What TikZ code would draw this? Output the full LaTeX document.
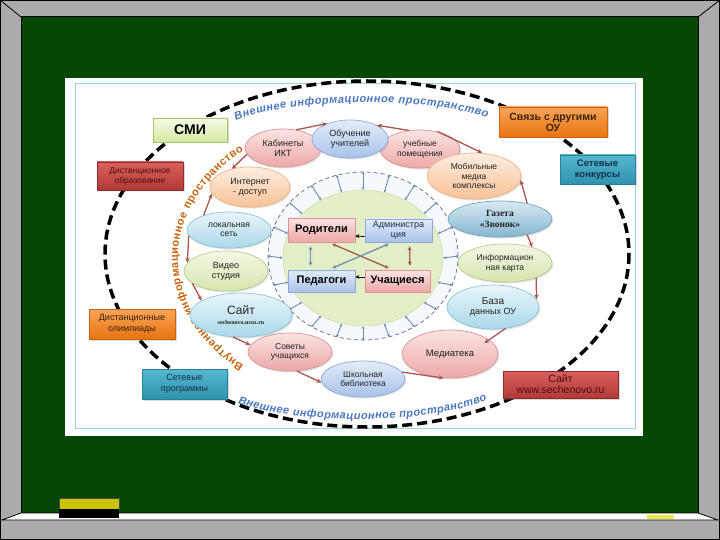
\documentclass[tikz,border=0pt]{standalone}
\usepackage{fontspec}
\setmainfont{Liberation Sans}
\newfontfamily\serifb{Liberation Serif}
\usetikzlibrary{shapes.geometric,arrows.meta,decorations.text,shadows}

\definecolor{board}{HTML}{044804}
\definecolor{framegray}{HTML}{ABABAB}
\definecolor{eraserY}{HTML}{CCC300}
\definecolor{chalkY}{HTML}{E6EA4A}
\definecolor{tealline}{HTML}{9CCFD6}
\definecolor{extblue}{HTML}{4A78BE}
\definecolor{intorange}{HTML}{C8640F}
\definecolor{arrC}{HTML}{A8574E}
\definecolor{spokeC}{HTML}{6F8DB5}
\definecolor{txt}{HTML}{222222}
\definecolor{smiT}{HTML}{F4FAE6}\definecolor{smiB}{HTML}{D3E9A2}\definecolor{smiD}{HTML}{A9C46C}
\definecolor{redT}{HTML}{D9605C}\definecolor{redB}{HTML}{B23A36}\definecolor{redD}{HTML}{8E2A27}\definecolor{redTxt}{HTML}{4A1010}
\definecolor{orT}{HTML}{F9A45A}\definecolor{orB}{HTML}{E8740F}\definecolor{orD}{HTML}{C9650E}\definecolor{orTxt}{HTML}{3A2410}
\definecolor{tlT}{HTML}{56B6CE}\definecolor{tlB}{HTML}{2E93B0}\definecolor{tlD}{HTML}{2A7F99}\definecolor{tlTxt}{HTML}{15304A}
\definecolor{pkT}{HTML}{FBE3E3}\definecolor{pkB}{HTML}{EBA8A7}\definecolor{pkD}{HTML}{D99594}
\definecolor{blT}{HTML}{E3ECF8}\definecolor{blB}{HTML}{A9C2E9}\definecolor{blD}{HTML}{8EAADB}
\definecolor{peT}{HTML}{FDEDE0}\definecolor{peB}{HTML}{F8C296}\definecolor{peD}{HTML}{F4B183}
\definecolor{cyT}{HTML}{E8F5F9}\definecolor{cyB}{HTML}{AAD8E9}\definecolor{cyD}{HTML}{8CC3DA}
\definecolor{gnT}{HTML}{F3F8E4}\definecolor{gnB}{HTML}{D5E5AF}\definecolor{gnD}{HTML}{B8CF8A}
\definecolor{gzT}{HTML}{D6E9F2}\definecolor{gzB}{HTML}{86B6CF}\definecolor{gzD}{HTML}{6FA5C3}
\definecolor{greenfill}{HTML}{E2EFC6}
\definecolor{greenD}{HTML}{CCDAB0}
\definecolor{ringC}{HTML}{5A6A80}
\definecolor{ringfill}{HTML}{F5F8FC}

\tikzset{
  obox/.style={rectangle, draw, line width=0.6pt, align=center, inner sep=1pt,
    drop shadow={opacity=0.3, shadow xshift=1.5pt, shadow yshift=-1.5pt}},
  smibox/.style={obox, top color=smiT, bottom color=smiB, draw=smiD, text=black},
  redbox/.style={obox, top color=redT, bottom color=redB, draw=redD, text=redTxt},
  orbox/.style={obox, top color=orT, bottom color=orB, draw=orD, text=orTxt},
  tlbox/.style={obox, top color=tlT, bottom color=tlB, draw=tlD, text=tlTxt},
  bub/.style={ellipse, inner sep=0pt, align=center, line width=0.7pt, text=txt,
    font=\fontsize{9}{10}\selectfont,
    drop shadow={opacity=0.25, shadow xshift=1.2pt, shadow yshift=-1.5pt}},
  bpink/.style={bub, top color=pkT, bottom color=pkB, draw=pkD},
  bblue/.style={bub, top color=blT, bottom color=blB, draw=blD},
  bpeach/.style={bub, top color=peT, bottom color=peB, draw=peD},
  bcyan/.style={bub, top color=cyT, bottom color=cyB, draw=cyD},
  bgreen/.style={bub, top color=gnT, bottom color=gnB, draw=gnD},
  bgaz/.style={bub, top color=gzT, bottom color=gzB, draw=gzD},
  ibox/.style={rectangle, draw, line width=0.6pt, align=center, inner sep=1pt,
    drop shadow={opacity=0.3, shadow xshift=1.2pt, shadow yshift=-1.2pt}},
  ipink/.style={ibox, top color=pkT, bottom color=pkB, draw=pkD, text=black},
  iblue/.style={ibox, top color=blT, bottom color=blB, draw=blD, text=black},
  ringarr/.style={draw=arrC, line width=1.3pt, -{Stealth[length=5pt,width=4.5pt]}},
  spoke/.style={draw=spokeC, line width=0.9pt, {Stealth[length=2.5pt,width=3pt]}-{Stealth[length=2.5pt,width=3pt]}},
  darkarr/.style={draw=black, line width=0.8pt, -{Stealth[length=4pt,width=4pt]}},
  bluarr/.style={draw=spokeC, line width=1.3pt, {Stealth[length=4pt,width=4pt]}-{Stealth[length=4pt,width=4pt]}, shorten <=4pt, shorten >=4pt},
  redarr/.style={draw=arrC, line width=1.3pt, {Stealth[length=4pt,width=4pt]}-{Stealth[length=4pt,width=4pt]}, shorten <=4pt, shorten >=4pt},
}

\begin{document}
\begin{tikzpicture}[x=1pt,y=-1pt]
\useasboundingbox (0,0) rectangle (720,540);
% chalkboard frame
\fill[framegray] (0,0) rectangle (720,540);
\draw[black, line width=1pt] (0.5,0.5) rectangle (719.5,539.5);
\filldraw[fill=board, draw=black, line width=1pt] (21,17) rectangle (698,513);
\draw[black, line width=0.8pt] (0,0) -- (21,17) (720,0) -- (698,17);
\filldraw[fill=white, draw=black, line width=0.8pt] (21,513) -- (698,513) -- (718,520) -- (2,520) -- cycle;
\filldraw[fill=eraserY, draw=black!70, line width=0.6pt] (59,498) rectangle (119,509);
\fill[black] (59,509) rectangle (119,518);
\fill[chalkY] (647,515) rectangle (674,519);
% picture
\fill[white] (65,78) rectangle (643,436);
\draw[tealline, line width=0.8pt] (75,83) rectangle (635,428);

% outer dashed ellipse
\draw[black, line width=3.5pt, dash pattern=on 10pt off 5pt] (367,254) ellipse [x radius=262, y radius=173];

% outer boxes
\node[smibox, minimum width=74pt, minimum height=24pt, font=\bfseries\fontsize{14}{14}\selectfont] (smi) at (190,130) {СМИ};
\node[redbox, minimum width=86pt, minimum height=28pt, font=\fontsize{8.5}{10}\selectfont] (disto) at (140,176) {Дистанционное\\образование};
\node[orbox, minimum width=108pt, minimum height=30pt, font=\bfseries\fontsize{10.5}{11}\selectfont] (svyaz) at (553,122) {Связь с другими\\ОУ};
\node[tlbox, minimum width=75pt, minimum height=29pt, font=\bfseries\fontsize{9.5}{11}\selectfont] (setkon) at (597.5,169.5) {Сетевые\\конкурсы};
\node[orbox, minimum width=86pt, minimum height=30pt, font=\fontsize{9}{10.5}\selectfont] (dolimp) at (132,324) {Дистанционные\\олимпиады};
\node[tlbox, minimum width=85pt, minimum height=30pt, font=\fontsize{9}{10.5}\selectfont] (setprog) at (184.5,384) {Сетевые\\программы};
\node[redbox, minimum width=115pt, minimum height=27pt, font=\fontsize{10.5}{11}\selectfont] (saitbox) at (560.5,384.5) {Сайт\\www.sechenovo.ru};

% curved labels
\path[decorate, decoration={text along path, text align={fit to path},
  text={|\color{extblue}\bfseries\itshape\fontsize{11}{11}\selectfont|Внешнее информационное пространство}}]
  (236,121) .. controls (291,97) and (432,97) .. (487,118);
\path[decorate, decoration={text along path, text align={fit to path},
  text={|\color{extblue}\bfseries\itshape\fontsize{11}{11}\selectfont|Внешнее информационное пространство}}]
  (238,403) .. controls (296,425) and (428,425) .. (487,400);
\path[decorate, decoration={text along path, text align={fit to path},
  text={|\color{intorange}\bfseries\fontsize{11}{12}\selectfont|Внутреннее информационное пространство}}]
  (243.7,365.2) arc[start angle=130, end angle=230, x radius=184, y radius=140];

% inner ring
\node[ellipse, inner sep=0pt, draw=ringC, line width=0.7pt, dash pattern=on 4pt off 3pt, fill=ringfill, minimum width=190pt, minimum height=168pt] (ring) at (363,256) {};
\node[ellipse, inner sep=0pt, draw=greenD, line width=0.5pt, fill=greenfill, minimum width=160pt, minimum height=136pt] (green) at (363,258) {};
\foreach \a in {0,18,...,342} \draw[spoke] (green.\a) -- (ring.\a);

% bubbles
\node[bpink, minimum width=76pt, minimum height=38pt] (kab) at (283,148) {Кабинеты\\ИКТ};
\node[bpink, minimum width=80pt, minimum height=38pt, font=\fontsize{8.5}{9.5}\selectfont] (uchp) at (420,149) {учебные\\помещения};
\node[bblue, minimum width=76pt, minimum height=38pt] (obuch) at (350,139) {Обучение\\учителей};
\node[bpeach, minimum width=94pt, minimum height=46pt, font=\fontsize{8.5}{9.5}\selectfont] (mob) at (474,176) {Мобильные\\медиа\\комплексы};
\node[bgaz, minimum width=104pt, minimum height=36pt, font=\serifb\bfseries\fontsize{9.5}{10.5}\selectfont] (gaz) at (500,219) {Газета\\«Звонок»};
\node[bgreen, minimum width=94pt, minimum height=38pt, font=\fontsize{8.5}{10}\selectfont] (info) at (505,263) {Информацион\\ная карта};
\node[bcyan, minimum width=92pt, minimum height=44pt] (baza) at (493,307) {{\fontsize{10}{11}\selectfont База}\\данных ОУ};
\node[bpink, minimum width=96pt, minimum height=48pt, font=\fontsize{9.5}{10}\selectfont] (med) at (450,354) {Медиатека};
\node[bblue, minimum width=84pt, minimum height=36pt, font=\fontsize{8.5}{9.5}\selectfont] (shk) at (363,379) {Школьная\\библиотека};
\node[bpink, minimum width=84pt, minimum height=38pt, font=\fontsize{8.5}{9.5}\selectfont] (sov) at (290,352) {Советы\\учащихся};
\node[bpeach, minimum width=80pt, minimum height=40pt] (int) at (250,187) {Интернет\\- доступ};
\node[bcyan, minimum width=84pt, minimum height=36pt, font=\fontsize{8.5}{9.5}\selectfont] (lok) at (229,230) {локальная\\сеть};
\node[bgreen, minimum width=84pt, minimum height=40pt] (video) at (226,271) {Видео\\студия};
\node[bcyan, minimum width=102pt, minimum height=44pt] (sayt) at (241,315) {{\fontsize{12}{13}\selectfont Сайт}\\{\serifb\bfseries\fontsize{6}{7}\selectfont sechenovo.ucoz.ru}};

% ring arrows
\draw[ringarr] (kab.54) -- (obuch.146);
\draw[ringarr] (uchp.121) -- (obuch.27);
\draw[ringarr] (uchp.45) -- (mob.70);
\draw[ringarr] (gaz.30) -- (mob.-5);
\draw[ringarr] (gaz.-30) -- (info.30);
\draw[ringarr] (info.-25) -- (baza.10);
\draw[ringarr, shorten >=-6pt] (baza.-60) -- (med.20);
\draw[ringarr] (shk.10) -- (med.-105);
\draw[ringarr] (sov.-70) -- (shk.185);
\draw[ringarr] (sayt.-110) -- (sov.170);
\draw[ringarr] (video.-160) -- (sayt.160);
\draw[ringarr] (lok.188) -- (video.168);
\draw[ringarr] (lok.150) -- (int.190);
\draw[ringarr] (kab.190) -- (int.135);

% inner boxes
\node[ipink, minimum width=67pt, minimum height=24pt, font=\bfseries\fontsize{11}{12}\selectfont] (rod) at (321.5,230) {Родители};
\node[iblue, minimum width=67pt, minimum height=23pt, font=\fontsize{9}{10}\selectfont, text=tlTxt] (adm) at (398.5,230.5) {Администра\\ция};
\node[iblue, minimum width=67pt, minimum height=22pt, font=\bfseries\fontsize{11}{12}\selectfont] (ped) at (321.5,281) {Педагоги};
\node[ipink, minimum width=65pt, minimum height=22pt, font=\bfseries\fontsize{11}{12}\selectfont] (uchas) at (397.5,281) {Учащиеся};

% inner arrows
\draw[darkarr] ([yshift=-6pt]adm.west) -- ([yshift=-6pt]rod.east);
\draw[darkarr] ([yshift=4pt]uchas.west) -- ([yshift=4pt]ped.east);
\draw[bluarr] ([xshift=-11pt]rod.south) -- ([xshift=-11pt]ped.north);
\draw[redarr] ([xshift=11pt]adm.south) -- ([xshift=12.5pt]uchas.north);
\draw[redarr] ([xshift=7pt]rod.south) -- ([xshift=-5pt]uchas.north);
\draw[bluarr] ([xshift=7pt]ped.north) -- ([xshift=-6pt]adm.south);
\end{tikzpicture}
\end{document}
